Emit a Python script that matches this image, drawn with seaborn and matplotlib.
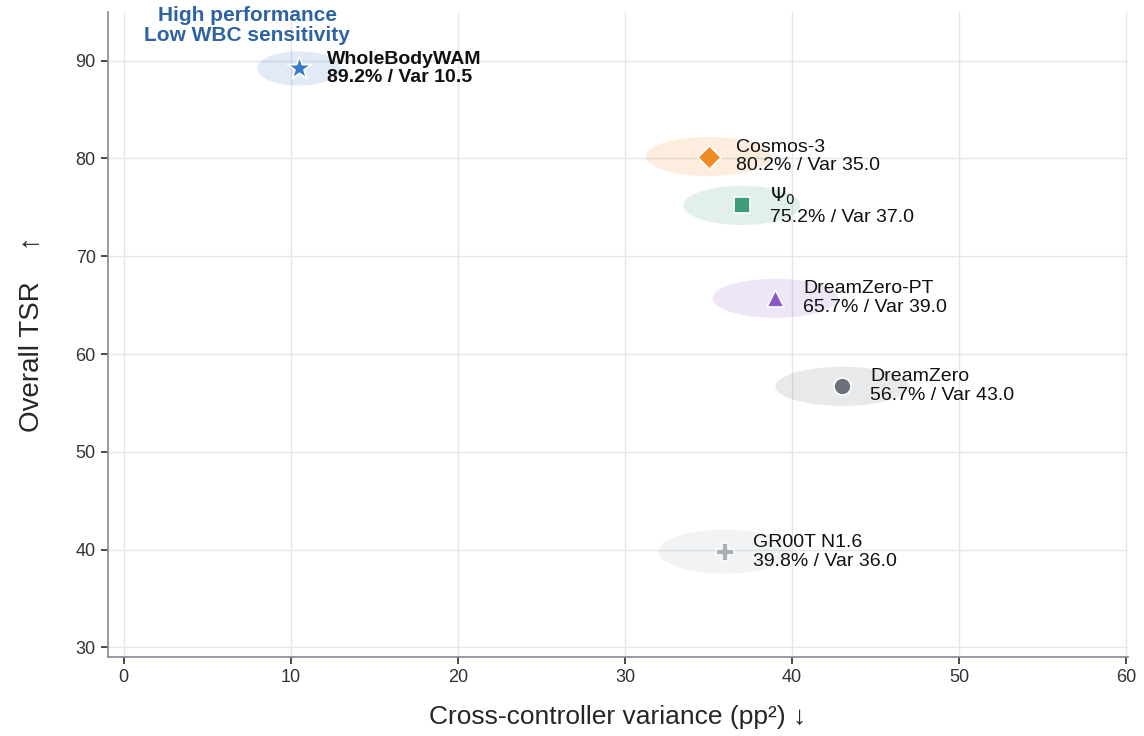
import matplotlib
matplotlib.use("Agg")
import matplotlib.pyplot as plt
import seaborn as sns
import pandas as pd
from matplotlib.patches import Ellipse

models = ["WholeBodyWAM", "Cosmos-3", "$\\Psi_0$", "DreamZero-PT", "DreamZero", "GR00T N1.6"]
variance = [10.5, 35.0, 37.0, 39.0, 43.0, 36.0]
tsr = [89.2, 80.2, 75.2, 65.7, 56.7, 39.8]
colors = ["#3a78c9", "#f08a24", "#3b9e78", "#8e57c7", "#6b717b", "#a8b2bb"]
markers = ["*", "D", "s", "^", "o", "P"]
msizes = [320, 140, 140, 150, 150, 160]
ell_w = [5.0, 7.5, 7.0, 7.5, 8.0, 8.0]
ell_h = [3.5, 4.0, 4.0, 4.0, 4.0, 4.5]

df = pd.DataFrame({"model": models, "var": variance, "tsr": tsr})

sns.set_theme(style="whitegrid")
plt.rcParams['font.family'] = ['Liberation Sans', 'DejaVu Sans']
fig = plt.figure(figsize=(11.44, 7.36), dpi=100)
ax = fig.add_axes([0.094, 0.107, 0.892, 0.877])

for i, r in df.iterrows():
    ax.add_patch(Ellipse((r["var"], r["tsr"]), ell_w[i], ell_h[i], color=colors[i], alpha=0.15, lw=0, zorder=1))
    sns.scatterplot(x=[r["var"]], y=[r["tsr"]], marker=markers[i], s=msizes[i], color=colors[i],
                    edgecolor="white", linewidth=1.2, ax=ax, zorder=3, legend=False)
    bold = i == 0
    ax.annotate(f"{models[i]}\n{r['tsr']:.1f}% / Var {r['var']:.1f}", (r["var"], r["tsr"]),
                xytext=(20, 0), textcoords="offset points", va="center", ha="left",
                fontsize=14, fontweight="bold" if bold else "normal", color="#111111",
                linespacing=1.15, zorder=4)

ax.text(7.4, 93.6, "High performance\nLow WBC sensitivity", ha="center", va="center",
        fontsize=15, fontweight="bold", color="#2e63a3", linespacing=1.05)

ax.set_xlim(-0.96, 60.1)
ax.set_ylim(29, 95)
ax.set_xticks(range(0, 61, 10))
ax.set_yticks(range(30, 91, 10))
ax.tick_params(axis="both", labelsize=13, colors="#333333", length=5, direction="out", left=True, bottom=True)
ax.grid(color="#e3e6ea", lw=1)
for s in ["top", "right"]:
    ax.spines[s].set_visible(False)
for s in ["left", "bottom"]:
    ax.spines[s].set_color("#8a8f96")
ax.set_xlabel("Cross-controller variance (pp²) ↓", fontsize=19, labelpad=14)
ax.set_ylabel("Overall TSR    ↑", fontsize=20, labelpad=22)
fig.savefig("out.png", dpi=100)
